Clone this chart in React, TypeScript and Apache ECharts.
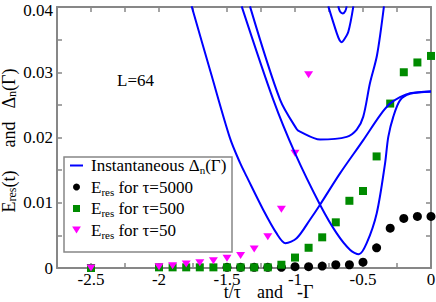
import React, { useEffect, useRef } from 'react';
import * as echarts from 'echarts';

const W = 436;
const H = 302;
const FONT = 'Liberation Serif, Times New Roman, serif';
const GRAY = '#878787';
const BLUE = '#0000ff';
const GREEN = '#008b00';
const MAGENTA = '#ff00ff';

// axis ticks / labels
const xLabelValues = [-2.5, -2, -1.5, -1, -0.5, 0];
const xTickValues = [-2.5, -2.25, -2, -1.75, -1.5, -1.25, -1, -0.75, -0.5, -0.25, 0];
const yLabelValues = [0, 0.01, 0.02, 0.03, 0.04];
const yTickValues = [0.005, 0.01, 0.015, 0.02, 0.025, 0.03, 0.035];

// instantaneous gaps Δn(Γ), x = -Γ
const gap1: number[][] = [
  [-1.76, 0.0401], [-1.62, 0.03], [-1.478, 0.0199], [-1.404, 0.0161], [-1.355, 0.014],
  [-1.233, 0.0089], [-1.135, 0.0053], [-1.07, 0.0038], [-0.988, 0.00455], [-0.89, 0.0074],
  [-0.816, 0.0097], [-0.669, 0.0145], [-0.498, 0.0196], [-0.375, 0.0234], [-0.301, 0.0252],
  [-0.228, 0.0262], [-0.154, 0.0268], [0, 0.0271],
];
const gap2: number[][] = [
  [-1.392, 0.0401], [-1.16, 0.0258], [-1.0, 0.0176], [-0.816, 0.0097], [-0.693, 0.0053],
  [-0.596, 0.0028], [-0.53, 0.0021], [-0.473, 0.0038], [-0.399, 0.0084], [-0.338, 0.016],
  [-0.314, 0.0201], [-0.277, 0.0232], [-0.228, 0.0257], [-0.154, 0.0267], [0, 0.027],
];
const gap3: number[][] = [
  [-1.331, 0.0401], [-1.11, 0.0258], [-0.988, 0.0213], [-0.963, 0.0209], [-0.816, 0.0197],
  [-0.62, 0.0201], [-0.546, 0.0212], [-0.498, 0.0232], [-0.449, 0.0283], [-0.397, 0.0326],
  [-0.346, 0.0401],
];
const gap4: number[][] = [
  [-0.755, 0.0401], [-0.693, 0.036], [-0.672, 0.0349], [-0.657, 0.0346], [-0.642, 0.0349],
  [-0.608, 0.0362], [-0.571, 0.0401],
];
const gap5: number[][] = [
  [-0.682, 0.0401], [-0.669, 0.0393], [-0.649, 0.039], [-0.63, 0.0394], [-0.62, 0.0401],
];

// residual energies E_res
const tau5000X = [-1.5, -1.4, -1.3, -1.2, -1.1, -1.0, -0.9, -0.8, -0.7, -0.6, -0.5, -0.4, -0.3, -0.2, -0.1, 0];
const tau5000Y = [0.0001, 0.0001, 0.0001, 0.0001, 0.0001, 0.0002, 0.0002, 0.0003, 0.0005, 0.0005, 0.0009, 0.0031, 0.0061, 0.0076, 0.0079, 0.0079];
const tau500X = [-2.5, -2.0, -1.9, -1.8, -1.7, -1.6, -1.5, -1.4, -1.3, -1.2, -1.1, -1.0, -0.9, -0.8, -0.7, -0.6, -0.5, -0.4, -0.3, -0.2, -0.1, 0];
const tau500Y = [0, 0.0001, 0.0001, 0.0001, 0.0001, 0.0001, 0.0001, 0.0001, 0.0001, 0.0001, 0.0005, 0.0016, 0.0031, 0.0047, 0.007, 0.0103, 0.0118, 0.0171, 0.0252, 0.03, 0.0315, 0.0325];
const tau50X = [-2.5, -2.0, -1.9, -1.8, -1.7, -1.6, -1.5, -1.4, -1.3, -1.2, -1.1, -1.0, -0.9];
const tau50Y = [0, 0.0002, 0.00035, 0.0006, 0.0008, 0.0011, 0.0015, 0.0019, 0.0029, 0.0048, 0.009, 0.0176, 0.0296];

const NAME_LINE = 'Instantaneous Δn(Γ)';
const NAME_5000 = 'Eres for τ=5000';
const NAME_500 = 'Eres for τ=500';
const NAME_50 = 'Eres for τ=50';

const legendRich: Record<string, string> = {
  [NAME_LINE]: '{sp| }{a|Instantaneous Δ}{s|n}{a|(Γ)}',
  [NAME_5000]: '{sp| }{a|E}{s|res}{a| for τ=5000}',
  [NAME_500]: '{sp| }{a|E}{s|res}{a| for τ=500}',
  [NAME_50]: '{sp| }{a|E}{s|res}{a| for τ=50}',
};

const SQUARE = 'path://M0,0H8V8H0Z';
const TRI_DOWN = 'path://M0,0L10,0L5,8Z';

const rich = {
  a: { fontFamily: FONT, fontSize: 17, lineHeight: 20, color: '#000' },
  s: { fontFamily: FONT, fontSize: 11, lineHeight: 8, verticalAlign: 'bottom', color: '#000' },
  b: { fontFamily: FONT, fontSize: 18, lineHeight: 18, color: '#000' },
  t: { fontFamily: FONT, fontSize: 12, lineHeight: 6, verticalAlign: 'bottom', color: '#000' },
  bx: { fontFamily: FONT, fontSize: 18, lineHeight: 12, color: '#000' },
  sp: { width: 3 },
  g1: { width: 23 },
  g2: { width: 13 },
  g3: { width: 16 },
  g4: { width: 14 },
  top: { fontFamily: FONT, fontSize: 17, lineHeight: 14, padding: [6, 0, 0, 0], color: '#000' },
};

function zip(xs: number[], ys: number[]) {
  return xs.map((x, i) => [x, ys[i]]);
}

export default function App() {
  const ref = useRef<HTMLDivElement>(null);
  useEffect(() => {
    document.body.style.margin = '0';
    const chart = echarts.init(ref.current as HTMLDivElement, null, { renderer: 'svg' });

    const axisCommon = (isX: boolean) => ({
      type: 'value',
      min: isX ? -2.75 : 0,
      max: isX ? 0 : 0.04,
      axisLine: { show: true, onZero: false, lineStyle: { color: GRAY, width: 2 } },
      axisTick: {
        show: true,
        inside: true,
        length: 5,
        customValues: isX ? xTickValues : yTickValues,
        lineStyle: { color: GRAY, width: 1.5 },
      },
      splitLine: { show: false },
      minorTick: { show: false },
    });

    const lineSeries = [gap1, gap2, gap3, gap4, gap5].map((pts) => ({
      name: NAME_LINE,
      type: 'line',
      data: pts,
      symbol: 'none',
      smooth: 0.3,
      clip: true,
      silent: true,
      lineStyle: { color: BLUE, width: 2 },
      itemStyle: { color: BLUE },
      xAxisIndex: 0,
      yAxisIndex: 0,
    }));

    const option: any = {
      animation: false,
      backgroundColor: '#fff',
      grid: { left: 57, right: 5, top: 7, bottom: 34, containLabel: false, outerBoundsMode: 'none' },
      xAxis: [
        {
          ...axisCommon(true),
          position: 'bottom',
          axisLabel: {
            show: true,
            customValues: xLabelValues,
            margin: 4,
            fontFamily: FONT,
            fontSize: 17,
            lineHeight: 14,
            color: '#000',
            hideOverlap: false,
          },
        },
        { ...axisCommon(true), position: 'top', axisLabel: { show: false } },
      ],
      yAxis: [
        {
          ...axisCommon(false),
          position: 'left',
          axisLabel: {
            show: true,
            customValues: yLabelValues,
            margin: 4,
            fontFamily: FONT,
            fontSize: 17,
            lineHeight: 14,
            color: '#000',
            hideOverlap: false,
            formatter: (v: number) => (Math.abs(v - 0.04) < 1e-9 ? '{top|0.04}' : String(+v.toFixed(3))),
            rich: { top: rich.top },
          },
        },
        { ...axisCommon(false), position: 'right', axisLabel: { show: false } },
      ],
      legend: {
        orient: 'vertical',
        left: 64,
        top: 157,
        padding: [0, 4, 0, 6],
        itemGap: 3,
        itemWidth: 13,
        itemHeight: 7,
        selectedMode: false,
        data: [
          { name: NAME_LINE, icon: 'path://M0,0H13V2H0Z' },
          { name: NAME_5000, icon: 'circle' },
          { name: NAME_500, icon: SQUARE },
          { name: NAME_50, icon: TRI_DOWN },
        ],
        formatter: (name: string) => legendRich[name] || name,
        textStyle: { fontFamily: FONT, fontSize: 17, color: '#000', rich },
      },
      graphic: [
        {
          type: 'rect',
          z: 0,
          silent: true,
          shape: { x: 64, y: 157, width: 168, height: 95 },
          style: { fill: '#fff', stroke: GRAY, lineWidth: 1.5 },
        },
        {
          type: 'text',
          x: 117,
          y: 80,
          silent: true,
          style: {
            text: 'L=64',
            font: `17px ${FONT}`,
            fill: '#000',
            align: 'left',
            verticalAlign: 'middle',
          },
        },
        {
          type: 'text',
          x: 8.5,
          y: 140.5,
          rotation: Math.PI / 2,
          silent: true,
          style: {
            text: '{b|E}{t|res}{b|(t)}{g1| }{b|and}{g2| }{b|Δ}{t|n}{b|(Γ)}',
            rich,
            font: `18px ${FONT}`,
            fill: '#000',
            align: 'center',
            verticalAlign: 'middle',
          },
        },
        {
          type: 'text',
          x: 268.5,
          y: 292,
          silent: true,
          style: {
            text: '{bx|t/τ}{g3| }{bx|and}{g4| }{bx|-Γ}',
            rich,
            font: `18px ${FONT}`,
            fill: '#000',
            align: 'center',
            verticalAlign: 'middle',
          },
        },
      ],
      series: [
        ...lineSeries,
        {
          name: NAME_5000,
          type: 'scatter',
          data: zip(tau5000X, tau5000Y),
          symbol: 'circle',
          symbolSize: 9,
          clip: false,
          itemStyle: { color: '#000', opacity: 1 },
        },
        {
          name: NAME_500,
          type: 'scatter',
          data: zip(tau500X, tau500Y),
          symbol: SQUARE,
          symbolSize: 8,
          clip: false,
          itemStyle: { color: GREEN, opacity: 1 },
        },
        {
          name: NAME_50,
          type: 'scatter',
          data: zip(tau50X, tau50Y),
          symbol: TRI_DOWN,
          symbolSize: [9, 7],
          clip: false,
          itemStyle: { color: MAGENTA, opacity: 1 },
        },
      ],
    };

    chart.setOption(option);
    return () => chart.dispose();
  }, []);

  return (
    <div
      ref={ref}
      style={{ position: 'absolute', left: 0, top: 0, width: W, height: H }}
    />
  );
}
